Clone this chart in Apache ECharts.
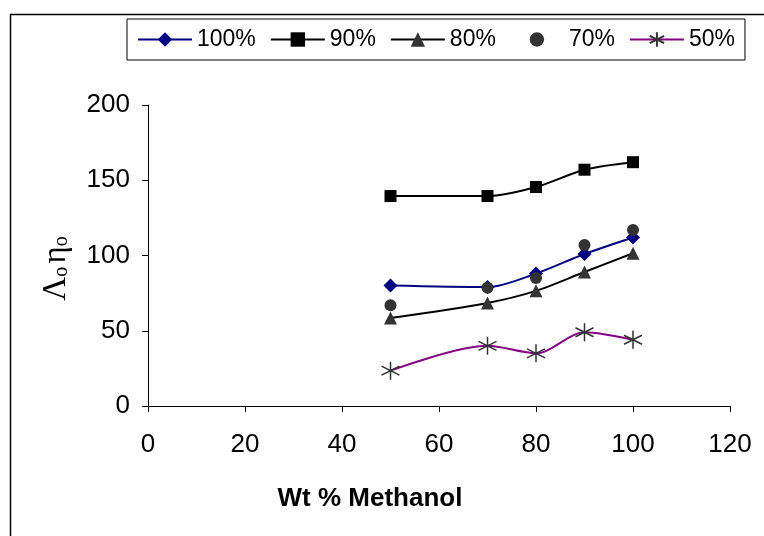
<!DOCTYPE html>
<html>
<head>
<meta charset="utf-8">
<script src="https://cdn.jsdelivr.net/npm/echarts@6/dist/echarts.min.js"></script>
<style>
  html, body { margin: 0; padding: 0; background: #fff; }
  #chart { width: 764px; height: 536px; }
</style>
</head>
<body>
<div id="chart"></div>
<script>
// wt % methanol
var xValues = [50, 70, 80, 90, 100];

var s100 = [80, 79, 88, 101, 112];
var s90 = [139.5, 139.5, 145.5, 157, 162];
var s80 = [58.5, 68.5, 76.5, 89, 101.5];
var s70 = [67, 78.5, 85, 107, 117];
var s50 = [23.5, 40, 35, 49, 44];

var seriesNames = ['100%', '90%', '80%', '70%', '50%'];

function pairs(ys) {
    return xValues.map(function (x, i) { return [x, ys[i]]; });
}

var asterisk = 'path://M0,-10L0,10M-8.66,-5L8.66,5M-8.66,5L8.66,-5';

var chart = echarts.init(document.getElementById('chart'));
chart.setOption({
    animation: false,
    backgroundColor: '#fff',
    textStyle: { fontFamily: 'Liberation Sans' },
    graphic: [{
        type: 'rect',
        left: 8, top: 12,
        shape: { width: 800, height: 600 },
        style: { fill: 'none', stroke: '#000', lineWidth: 1.5 },
        silent: true
    }],
    legend: {
        left: 127, top: 19,
        padding: [9, 10],
        itemGap: 14,
        itemWidth: 54,
        itemHeight: 18,
        borderColor: '#000',
        borderWidth: 1,
        backgroundColor: '#fff',
        textStyle: { fontSize: 23, color: '#000', fontFamily: 'Liberation Sans' },
        data: seriesNames
    },
    grid: { left: 148, right: 34, top: 105, bottom: 130 },
    xAxis: {
        type: 'value',
        min: 0, max: 120, interval: 20,
        name: 'Wt % Methanol',
        nameLocation: 'middle',
        nameGap: 80,
        nameTextStyle: { fontSize: 26, fontWeight: 'bold', color: '#000', padding: [0, 138, 0, 0] },
        axisLine: { lineStyle: { color: '#000', width: 1 } },
        axisTick: { show: true, length: 6, lineStyle: { color: '#000' } },
        axisLabel: { fontSize: 26, color: '#000', margin: 26 },
        splitLine: { show: false }
    },
    yAxis: {
        type: 'value',
        min: 0, max: 200, interval: 50,
        name: '{a|Λ}{s|o} {a|η}{s|o}',
        nameLocation: 'middle',
        nameGap: 72,
        nameTextStyle: {
            color: '#000',
            padding: [0, 26, 0, 0],
            rich: {
                a: { fontSize: 33, fontFamily: 'Liberation Serif', color: '#000', lineHeight: 40 },
                s: { fontSize: 20, fontFamily: 'Liberation Serif', color: '#000', lineHeight: 40, padding: [12, 0, 0, 0] }
            }
        },
        axisLine: { show: true, lineStyle: { color: '#000', width: 1 } },
        axisTick: { show: true, length: 6, lineStyle: { color: '#000' } },
        axisLabel: { fontSize: 26, color: '#000', margin: 18 },
        splitLine: { show: false }
    },
    series: [
        {
            name: '100%', type: 'line', smooth: 0.3,
            data: pairs(s100),
            symbol: 'diamond', symbolSize: 14,
            itemStyle: { color: '#000080' },
            lineStyle: { color: '#000080', width: 2 }
        },
        {
            name: '90%', type: 'line', smooth: 0.3,
            data: pairs(s90),
            symbol: 'rect', symbolSize: 12,
            itemStyle: { color: '#000' },
            lineStyle: { color: '#000', width: 2 }
        },
        {
            name: '80%', type: 'line', smooth: 0.3,
            data: pairs(s80),
            symbol: 'triangle', symbolSize: 13,
            itemStyle: { color: '#333' },
            lineStyle: { color: '#000', width: 2 }
        },
        {
            // markers only, no connecting line
            name: '70%', type: 'line',
            data: pairs(s70),
            symbol: 'circle', symbolSize: 12,
            itemStyle: { color: '#333' },
            lineStyle: { width: 0, opacity: 0 }
        },
        {
            name: '50%', type: 'line', smooth: 0.3,
            data: pairs(s50),
            symbol: asterisk, symbolSize: 18,
            itemStyle: { color: 'rgba(0,0,0,0)', borderColor: '#333', borderWidth: 1.5 },
            lineStyle: { color: '#800080', width: 2 }
        }
    ]
});
</script>
</body>
</html>
